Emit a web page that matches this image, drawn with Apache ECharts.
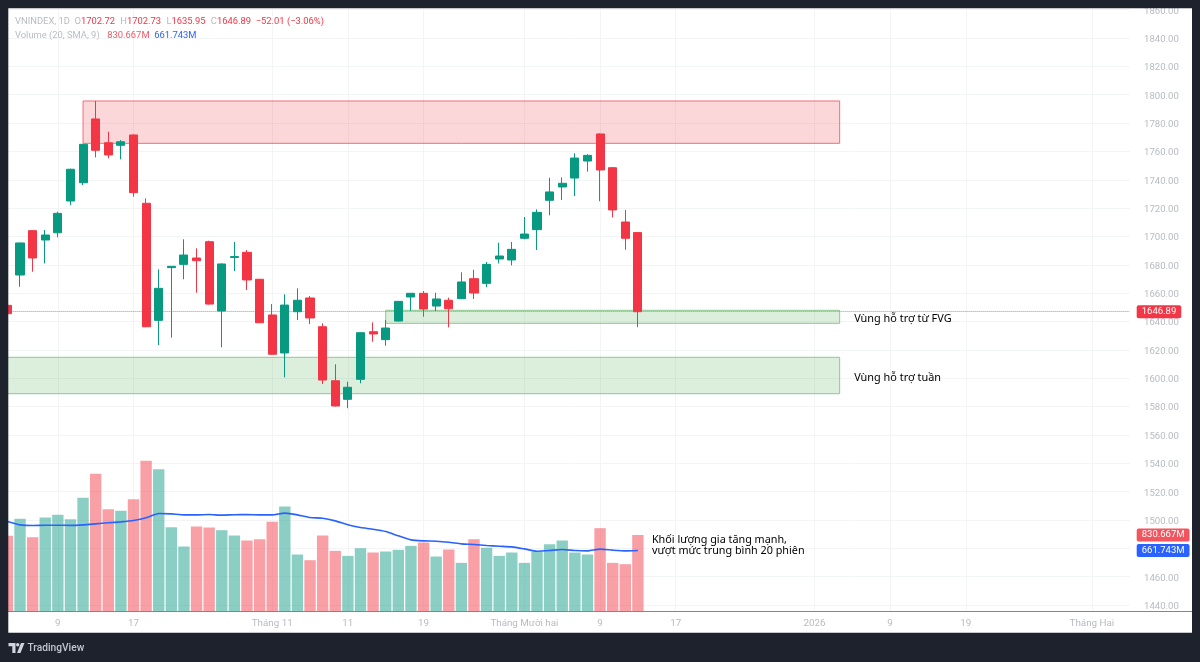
<!DOCTYPE html>
<html>
<head>
<meta charset="utf-8">
<title>VNINDEX</title>
<script src="https://cdn.jsdelivr.net/npm/echarts@6/dist/echarts.min.js"></script>
<style>
  html, body { margin: 0; padding: 0; background: #1e222d; }
  #chart { width: 1200px; height: 662px; }
</style>
</head>
<body>
<div id="chart"></div>
<script>
// gia tung phien, doc tu hinh
const opens = [1651.4,1672.8,1704.1,1697.5,1702.6,1725,1737.9,1782.9,1766.1,1764.3,1771.6,1723.4,1640.8,1678,1680.3,1684.8,1696.3,1647.4,1685.2,1688.8,1669.8,1644.6,1617.8,1646.9,1656.6,1636.3,1598.2,1585.1,1599.2,1632.8,1627.2,1640.3,1657.3,1659.9,1650.9,1655,1656.1,1670.2,1666.9,1684.1,1683.4,1698.7,1704.8,1725.5,1734.9,1741.2,1753.2,1772.3,1748.5,1710.2,1702.72];
const closes = [1645.5,1695.4,1684.8,1701,1716.3,1747.4,1765,1760.8,1757.5,1766.8,1730.9,1636.3,1663.4,1678.9,1686.9,1682.9,1652.3,1680.6,1685.8,1669.3,1639.1,1616.9,1651.6,1655,1642.5,1598.7,1580.4,1593.6,1632.1,1631.2,1635.4,1654.2,1659.9,1648.8,1655.9,1649,1667.9,1660.1,1680.3,1686.2,1690.9,1701.7,1717,1731.4,1737.5,1755.3,1757.2,1746.9,1718.7,1698.7,1646.89];
const lows = [1645,1664.5,1675.1,1681,1699.4,1722.2,1736.3,1755.8,1755.1,1754.4,1728,1636,1623.4,1628.6,1669.8,1660.3,1652,1621.8,1675.6,1662.2,1639,1616.5,1600.6,1641,1638.2,1595.9,1580,1578.8,1596.4,1625.7,1622.9,1640,1647.6,1643.4,1647.4,1635.9,1656,1655.9,1664.3,1681,1679.6,1698,1690.4,1714.9,1725.7,1728.5,1745.7,1724.8,1713.5,1690.6,1635.95];
const highs = [1652,1695.6,1704.3,1704.5,1717.5,1747.8,1765.3,1795.6,1773.9,1768,1772,1726.9,1676.8,1679.1,1698,1691.6,1697,1681,1696.1,1690.4,1670,1652.3,1659.2,1663.4,1658,1638.7,1609.8,1597.5,1632.3,1639.4,1641,1654.4,1660,1661.5,1660.3,1656.8,1674.7,1676.5,1682,1695.6,1696.1,1713.7,1719.1,1741.4,1741.7,1758.7,1758,1772.7,1749,1718.7,1702.73];
// khoi luong (trieu) va SMA 20
const volumes = [821.5,1006,807,1020.6,1049.5,1002.5,1234,1494.6,1111,1093,1219.6,1635.8,1545,915.6,705.7,922.8,912,883,825,770.8,785.3,973.5,1140,618.8,557.3,825,658.6,604,687.6,640.6,651.4,669.5,713,749,597,673,528,785,691,604,640.6,528,651,731,771,640,619,905,528,514,830.667];
const volumeMa = [977,941,934,937,937,935,941,952,963,973.5,988,1017,1064,1060,1049.5,1049.5,1053,1046,1051,1053,1049.5,1049.5,1068,1049.5,1020,1013,984,941,912,894,868.6,821.5,778,767,763.6,752.8,734.7,727,716.6,709,702,680,655,662,673,662,658.6,676.8,666,658.6,661.743];

// truc thoi gian: 90 o, chi mot so o co nhan
const sessions = Array.from({ length: 90 }, (_, i) => String(i));
const tickSlots = [4, 10, 21, 27, 33, 41, 47, 53, 64, 70, 76, 86];
const tickLabels = ["9", "17", "Tháng 11", "11", "19", "Tháng Mười hai", "9", "17", "2026", "9", "19", "Tháng Hai"];

// cac vung gia
const zoneNames = ["", "Vùng hỗ trợ từ FVG", "Vùng hỗ trợ tuần"];
const zoneStart = [6, 30, 0];
const zoneEnd = [66, 66, 66];
const zoneTop = [1795.56, 1647.9, 1614.75];
const zoneBottom = [1765.7, 1638.7, 1589.07];
const zoneKinds = ["red", "green", "green"];

const lastPrice = 1646.89;
const lastVolume = 830.667;
const lastVolumeMa = 661.743;
const volumeNote = "Khối lượng gia tăng mạnh,\nvượt mức trung bình 20 phiên";

const UP = "#089981";
const DOWN = "#f23645";
const FONT = '"Noto Sans", sans-serif';
const NUM_FONT = 'Roboto, sans-serif';
const LABEL_GREY = "#b8bbc3";
const GRID_LINE = "#f3f4f6";

const candles = opens.map((o, i) => [o, closes[i], lows[i], highs[i]]);
const isSlot = (i) => tickSlots.includes(i);

const chart = echarts.init(document.getElementById("chart"));

function tagLabel(color, text) {
  return {
    show: true,
    position: "end",
    distance: 7,
    formatter: text,
    color: "#fff",
    backgroundColor: color,
    borderRadius: 2,
    padding: [2, 5, 1, 5],
    fontFamily: NUM_FONT,
    fontSize: 9.5,
  };
}

function hiddenLine(value, color, text) {
  return {
    silent: true,
    symbol: "none",
    lineStyle: { color: "rgba(0,0,0,0)" },
    data: [{ yAxis: value, label: tagLabel(color, text) }],
  };
}

function headText(color) {
  return { color: color, fontSize: 9.4, fontWeight: "normal", fontFamily: NUM_FONT, lineHeight: 14 };
}

chart.setOption({
  animation: false,
  backgroundColor: "#fff",
  textStyle: { fontFamily: FONT },
  title: {
    left: 10,
    top: 9.5,
    text:
      "{g|VNINDEX, 1D  O}{r|1702.72}{s| }{g| H}{r|1702.73}{s| }{g| L}{r|1635.95}{s| }{g| C}{r|1646.89} {r|−52.01 (−3.06%)}\n" +
      "{g|Volume (20, SMA, 9)}{s| } {r2|830.667M} {b|661.743M}",
    textStyle: {
      lineHeight: 14,
      fontWeight: "normal",
      rich: {
        g: headText(LABEL_GREY),
        s: { fontSize: 12, fontFamily: NUM_FONT, lineHeight: 14 },
        r: headText(DOWN),
        r2: headText("#ef5a68"),
        b: headText("#2962ff"),
      },
    },
  },
  grid: [
    // grid gia: 1420-1880, phan thua bi khung toi che
    { left: 7.4, width: 1122.3, top: -18.7, height: 652.05, outerBoundsMode: "none" },
    // grid khoi luong + truc thoi gian
    { left: 7.4, width: 1122.3, top: 8.3, height: 603.2, outerBoundsMode: "none" },
  ],
  xAxis: [
    {
      type: "category",
      gridIndex: 0,
      data: sessions,
      boundaryGap: false,
      show: false,
    },
    {
      type: "category",
      gridIndex: 1,
      data: sessions,
      boundaryGap: false,
      axisLine: { show: false },
      axisTick: { show: false },
      axisLabel: {
        interval: (i) => isSlot(i),
        formatter: (v, i) => tickLabels[tickSlots.indexOf(i)],
        color: LABEL_GREY,
        fontFamily: NUM_FONT,
        fontSize: 9.8,
        margin: 7,
      },
      splitLine: {
        show: true,
        interval: (i) => isSlot(i),
        lineStyle: { color: GRID_LINE },
      },
    },
  ],
  yAxis: [
    {
      type: "value",
      gridIndex: 0,
      position: "right",
      min: 1420,
      max: 1880,
      interval: 20,
      axisLine: { show: false },
      axisTick: { show: false },
      axisLabel: {
        color: LABEL_GREY,
        fontFamily: NUM_FONT,
        fontSize: 9.6,
        margin: 14.3,
        verticalAlign: "top",
        lineHeight: 3,
        formatter: (v) => (v === 1420 ? "" : v.toFixed(2)),
      },
      splitLine: { lineStyle: { color: GRID_LINE } },
    },
    {
      type: "value",
      gridIndex: 1,
      min: 0,
      max: 6550,
      show: false,
      splitLine: { show: false },
    },
  ],
  series: [
    {
      name: "Volume",
      type: "bar",
      xAxisIndex: 1,
      yAxisIndex: 1,
      barWidth: 11.4,
      data: volumes.map((v, i) => ({
        value: v,
        itemStyle: {
          color: closes[i] >= opens[i] ? "rgba(8,153,129,0.47)" : "rgba(242,54,69,0.47)",
        },
      })),
      markLine: hiddenLine(lastVolume, "#f2555f", "830.667M"),
    },
    {
      name: "Volume MA",
      type: "line",
      xAxisIndex: 1,
      yAxisIndex: 1,
      data: volumeMa,
      symbol: "none",
      smooth: 0.2,
      z: 4,
      lineStyle: { color: "#2962ff", width: 1.6 },
      endLabel: {
        show: true,
        formatter: volumeNote,
        color: "#000",
        fontFamily: FONT,
        fontSize: 10.8,
        lineHeight: 11.5,
        align: "left",
        offset: [6, -5],
      },
      markLine: hiddenLine(lastVolumeMa, "#2962ff", "661.743M"),
    },
    {
      name: "VNINDEX",
      type: "candlestick",
      xAxisIndex: 0,
      yAxisIndex: 0,
      barWidth: 8.6,
      z: 5,
      data: candles,
      itemStyle: {
        color: UP,
        color0: DOWN,
        borderColor: UP,
        borderColor0: DOWN,
        borderWidth: 1,
      },
      markLine: {
        silent: true,
        symbol: "none",
        lineStyle: { color: "rgba(242,54,69,0.7)", type: "dotted", width: 1 },
        data: [{ yAxis: lastPrice, label: tagLabel(DOWN, "1646.89") }],
      },
      markArea: {
        silent: true,
        data: zoneNames.map((name, i) => {
          const red = zoneKinds[i] === "red";
          return [
            {
              name: name,
              xAxis: zoneStart[i],
              yAxis: zoneTop[i],
              itemStyle: {
                color: red ? "rgba(242,54,69,0.2)" : "rgba(76,175,80,0.2)",
                borderColor: red ? "#ee7079" : "#8cc98f",
                borderWidth: 1,
              },
              label: {
                show: name !== "",
                position: "right",
                distance: 14,
                color: "#000",
                fontFamily: FONT,
                fontSize: 10.9,
                offset: [0, 2],
              },
            },
            { xAxis: zoneEnd[i], yAxis: zoneBottom[i] },
          ];
        }),
      },
    },
  ],
  graphic: [
    // khung toi quanh bieu do
    { type: "rect", z: 100, silent: true, shape: { x: 0, y: 0, width: 1200, height: 8.3 }, style: { fill: "#1e222d" } },
    { type: "rect", z: 100, silent: true, shape: { x: 0, y: 0, width: 8.3, height: 662 }, style: { fill: "#1e222d" } },
    { type: "rect", z: 100, silent: true, shape: { x: 1192, y: 0, width: 8, height: 662 }, style: { fill: "#1e222d" } },
    { type: "rect", z: 100, silent: true, shape: { x: 0, y: 632.7, width: 1200, height: 30 }, style: { fill: "#1e222d" } },
    // duong truc thoi gian
    { type: "rect", z: 99, silent: true, shape: { x: 8, y: 611, width: 1184, height: 1 }, style: { fill: "#84868e" } },
    // logo TradingView
    {
      type: "group",
      x: 8.5,
      y: 643,
      children: [
        { type: "polygon", z: 101, silent: true, shape: { points: [[0, 0], [7, 0], [7, 10], [3.8, 10], [3.8, 3.2], [0, 3.2]] }, style: { fill: "#d1d4dc" } },
        { type: "circle", z: 101, silent: true, shape: { cx: 9.2, cy: 1.7, r: 1.7 }, style: { fill: "#d1d4dc" } },
        { type: "polygon", z: 101, silent: true, shape: { points: [[12.5, 0], [16, 0], [12, 10], [8.5, 10]] }, style: { fill: "#d1d4dc" } },
      ],
    },
    {
      type: "text",
      z: 101,
      silent: true,
      x: 27.5,
      y: 648.5,
      style: {
        text: "TradingView",
        fill: "#c3c6ce",
        font: '500 10.2px Roboto, sans-serif',
        textVerticalAlign: "middle",
      },
    },
  ],
});

window.addEventListener("resize", () => chart.resize());
</script>
</body>
</html>
